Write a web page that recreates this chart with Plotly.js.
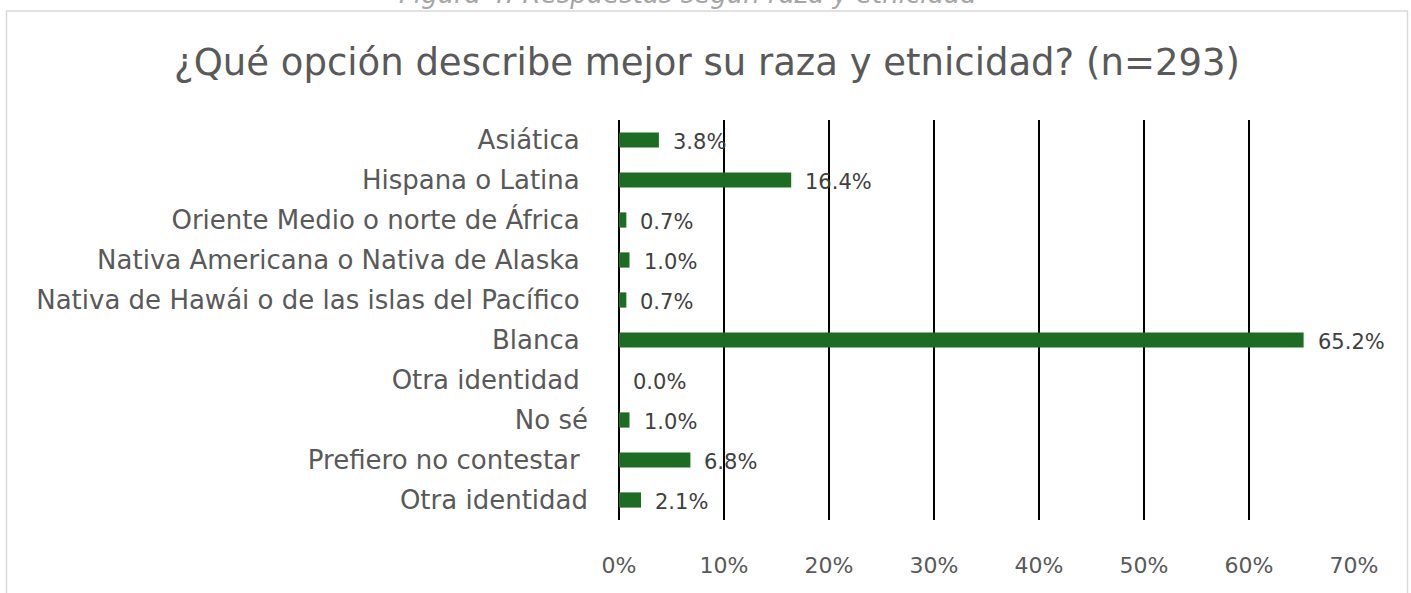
<!DOCTYPE html>
<html>
<head>
<meta charset="utf-8">
<script src="https://cdn.plot.ly/plotly-3.0.1.min.js"></script>
<style>html,body{margin:0;padding:0;background:#fff;}</style>
</head>
<body>
<div id="chart" style="width:1411px;height:593px;"></div>
<script>
const categories = [
  "Asiática\u00A0",
  "Hispana o Latina\u00A0",
  "Oriente Medio o norte de África\u00A0",
  "Nativa Americana o Nativa de Alaska\u00A0",
  "Nativa de Hawái o de las islas del Pacífico\u00A0",
  "Blanca\u00A0",
  "Otra identidad\u00A0",
  "No sé",
  "Prefiero no contestar\u00A0",
  "Otra identidad"
];
const values = [3.8, 16.4, 0.7, 1.0, 0.7, 65.2, 0.0, 1.0, 6.8, 2.1];
const labels = ["3.8%", "16.4%", "0.7%", "1.0%", "0.7%", "65.2%", "0.0%", "1.0%", "6.8%", "2.1%"];
const xTicks = [0, 10, 20, 30, 40, 50, 60, 70];
const xTickLabels = ["0%", "10%", "20%", "30%", "40%", "50%", "60%", "70%"];

const FONT = "DejaVu Sans, Verdana, sans-serif";

const trace = {
  type: "bar",
  orientation: "h",
  y: categories,
  x: values,
  marker: {color: "#1e6b24"},
  hoverinfo: "skip"
};

const annotations = values.map((v, i) => ({
  x: v, y: categories[i], xref: "x", yref: "y",
  text: labels[i], showarrow: false,
  xanchor: "left", yanchor: "middle", xshift: 12, yshift: -2,
  font: {family: FONT, size: 21, color: "#404040"}
}));

annotations.push({
  x: (688 - 619) / 735, y: (520 - 11) / 400, xref: "paper", yref: "paper",
  text: "<i>Figura 4: Respuestas según raza y etnicidad</i>",
  showarrow: false, xanchor: "center", yanchor: "bottom",
  font: {family: FONT, size: 26, color: "#a6a6a6"}
});

const layout = {
  width: 1411, height: 593,
  margin: {l: 619, r: 57, t: 120, b: 73},
  paper_bgcolor: "#ffffff", plot_bgcolor: "#ffffff",
  showlegend: false,
  bargap: 0.62,
  title: {
    text: "¿Qué opción describe mejor su raza y etnicidad? (n=293)",
    x: 707 / 1411, xref: "container", xanchor: "center",
    y: 1 - 62 / 593, yanchor: "middle", yref: "container",
    font: {family: FONT, size: 37, color: "#595959"}
  },
  xaxis: {
    range: [0, 70],
    tickmode: "array",
    tickvals: xTicks,
    ticktext: xTickLabels,
    showgrid: true, gridcolor: "#000000", gridwidth: 1.5,
    zeroline: true, zerolinecolor: "#000000", zerolinewidth: 1.5,
    showline: false, ticks: "",
    ticklabelstandoff: 30,
    tickfont: {family: FONT, size: 22, color: "#595959"},
    fixedrange: true
  },
  yaxis: {
    type: "category",
    autorange: "reversed",
    showgrid: false, zeroline: false, showline: false, ticks: "",
    ticklabelstandoff: 30,
    tickfont: {family: FONT, size: 26, color: "#595959"},
    fixedrange: true
  },
  annotations: annotations,
  shapes: [{
    type: "rect", xref: "paper", yref: "paper",
    x0: (6.5 - 619) / 735, x1: (1407.5 - 619) / 735,
    y0: (520 - 620) / 400, y1: (520 - 11) / 400,
    line: {color: "#d9d9d9", width: 1.5}, fillcolor: "rgba(0,0,0,0)", layer: "below"
  }]
};

Plotly.newPlot("chart", [trace], layout, {displayModeBar: false, staticPlot: true});
</script>
</body>
</html>
